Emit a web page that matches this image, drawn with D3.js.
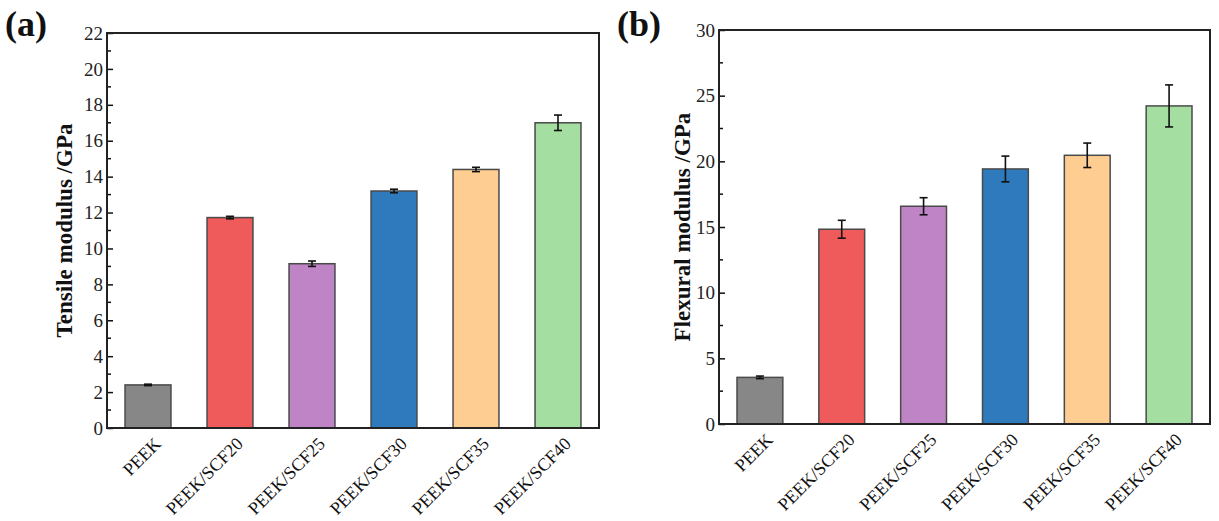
<!DOCTYPE html>
<html>
<head>
<meta charset="utf-8">
<style>
  body { margin: 0; background: #fff; }
  svg text { font-family: "Liberation Serif", "Times New Roman", serif; fill: #111; }
</style>
</head>
<body>
<div id="viz_area"></div>
<script src="https://d3js.org/d3.v7.min.js"></script>
<script>
    // data
    var categories = ["PEEK", "PEEK/SCF20", "PEEK/SCF25", "PEEK/SCF30", "PEEK/SCF35", "PEEK/SCF40"];
    var barColors = ["#878787", "#EF5B5B", "#BE84C6", "#2F7ABC", "#FECD91", "#A4DEA0"];

    var tensile = [2.4, 11.72, 9.15, 13.2, 14.4, 17.0];
    var tensileErr = [0.04, 0.07, 0.15, 0.1, 0.12, 0.43];

    var flexural = [3.55, 14.83, 16.58, 19.42, 20.46, 24.22];
    var flexuralErr = [0.1, 0.68, 0.65, 0.98, 0.93, 1.6];

    var tensileTicks = d3.range(0, 23, 2);
    var flexuralTicks = d3.range(0, 31, 5);

    var svg = d3.select("#viz_area")
        .append("svg")
        .attr("width", 1219)
        .attr("height", 521);

    // one panel of the figure
    function drawPanel(opts) {
        var margin = {left: opts.left, top: opts.top},
            width = opts.width,
            height = opts.height;

        var g = svg.append("g")
            .attr("transform", "translate(" + margin.left + "," + margin.top + ")");

        var x = d3.scaleBand()
            .domain(categories)
            .range([0, width])
            .paddingInner(0.44)
            .paddingOuter(0.22);

        var y = d3.scaleLinear()
            .domain([0, opts.max])
            .range([height, 0]);

        // bars
        g.selectAll("rect.bar")
            .data(opts.values)
            .enter().append("rect")
            .attr("class", "bar")
            .attr("x", function(d, i) { return x(categories[i]); })
            .attr("y", function(d) { return y(d); })
            .attr("width", x.bandwidth())
            .attr("height", function(d) { return height - y(d); })
            .style("fill", function(d, i) { return barColors[i]; })
            .style("stroke", "#4a4a4a")
            .style("stroke-width", 1.5);

        // error bars
        var eb = g.selectAll("g.err")
            .data(opts.values)
            .enter().append("g")
            .attr("class", "err")
            .attr("transform", function(d, i) { return "translate(" + (x(categories[i]) + x.bandwidth() / 2) + ",0)"; });
        eb.append("line")
            .attr("y1", function(d, i) { return y(d - opts.errors[i]); })
            .attr("y2", function(d, i) { return y(d + opts.errors[i]); })
            .style("stroke", "#111").style("stroke-width", 1.6);
        eb.append("line")
            .attr("x1", -4).attr("x2", 4)
            .attr("y1", function(d, i) { return y(d - opts.errors[i]); })
            .attr("y2", function(d, i) { return y(d - opts.errors[i]); })
            .style("stroke", "#111").style("stroke-width", 1.6);
        eb.append("line")
            .attr("x1", -4).attr("x2", 4)
            .attr("y1", function(d, i) { return y(d + opts.errors[i]); })
            .attr("y2", function(d, i) { return y(d + opts.errors[i]); })
            .style("stroke", "#111").style("stroke-width", 1.6);

        // minor ticks (inside)
        var step = opts.ticks[1] - opts.ticks[0];
        var minor = d3.range(step / 2, opts.max, step);
        g.selectAll("line.minor")
            .data(minor)
            .enter().append("line")
            .attr("x1", 0).attr("x2", 4)
            .attr("y1", function(d) { return y(d); })
            .attr("y2", function(d) { return y(d); })
            .style("stroke", "#111").style("stroke-width", 1.5);

        // y axis with inward ticks
        var yAxis = g.append("g")
            .call(d3.axisLeft(y).tickValues(opts.ticks).tickSizeInner(-6).tickSizeOuter(0).tickPadding(4));
        yAxis.select(".domain").remove();
        yAxis.selectAll(".tick line").style("stroke", "#111").style("stroke-width", 1.5);
        yAxis.selectAll(".tick text")
            .attr("x", -4)
            .style("font-family", "'Liberation Serif', serif")
            .style("font-size", "19px")
            .style("fill", "#222");

        // frame
        g.append("rect")
            .attr("x", 0).attr("y", 0)
            .attr("width", width).attr("height", height)
            .style("fill", "none")
            .style("stroke", "#222")
            .style("stroke-width", 2);

        // x labels, rotated
        g.selectAll("text.xlab")
            .data(categories)
            .enter().append("text")
            .attr("class", "xlab")
            .attr("text-anchor", "end")
            .attr("transform", function(d) {
                return "translate(" + (x(d) + x.bandwidth() / 2 + 14) + "," + (height + 17) + ") rotate(-45)";
            })
            .style("font-size", "18px")
            .text(function(d) { return d; });

        // y title
        g.append("text")
            .attr("text-anchor", "middle")
            .attr("transform", "translate(" + opts.titleX + "," + (height / 2) + ") rotate(-90)")
            .style("font-size", "23px")
            .style("font-weight", "bold")
            .text(opts.title);

        // panel letter
        svg.append("text")
            .attr("x", opts.letterX)
            .attr("y", 36)
            .style("font-size", "36px")
            .style("font-weight", "bold")
            .text(opts.letter);
    }

    drawPanel({left: 107, top: 33, width: 492, height: 395, max: 22,
               values: tensile, errors: tensileErr, ticks: tensileTicks,
               title: "Tensile modulus /GPa", titleX: -35, letter: "(a)", letterX: 5});

    drawPanel({left: 719, top: 30, width: 491, height: 394, max: 30,
               values: flexural, errors: flexuralErr, ticks: flexuralTicks,
               title: "Flexural modulus /GPa", titleX: -29, letter: "(b)", letterX: 617});
</script>
</body>
</html>
